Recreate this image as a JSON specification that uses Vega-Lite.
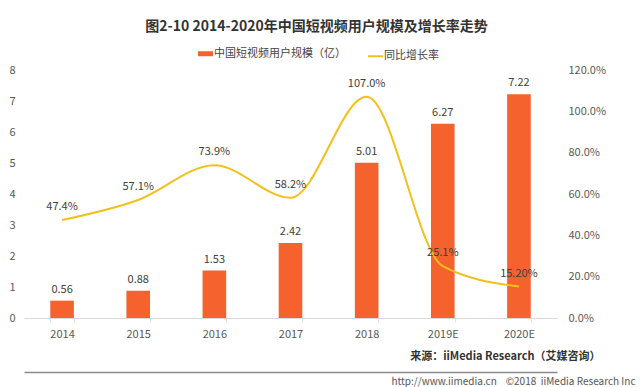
{
  "$schema": "https://vega.github.io/schema/vega-lite/v6.json",
  "width": 533,
  "height": 248,
  "autosize": {"type": "none"},
  "padding": {"left": 24, "top": 70, "right": 83, "bottom": 69},
  "background": "white",
  "title": {
    "text": "图2-10 2014-2020年中国短视频用户规模及增长率走势",
    "anchor": "middle",
    "frame": "group",
    "dx": 26,
    "fontSize": 14,
    "fontWeight": "bold",
    "color": "#333333",
    "offset": 14
  },
  "data": {
    "values": [
      {"year": "2014", "users": 0.56, "rate": 47.4, "rate_label": "47.4%"},
      {"year": "2015", "users": 0.88, "rate": 57.1, "rate_label": "57.1%"},
      {"year": "2016", "users": 1.53, "rate": 73.9, "rate_label": "73.9%"},
      {"year": "2017", "users": 2.42, "rate": 58.2, "rate_label": "58.2%"},
      {"year": "2018", "users": 5.01, "rate": 107.0, "rate_label": "107.0%"},
      {"year": "2019E", "users": 6.27, "rate": 25.1, "rate_label": "25.1%"},
      {"year": "2020E", "users": 7.22, "rate": 15.2, "rate_label": "15.20%"}
    ]
  },
  "encoding": {
    "x": {
      "field": "year",
      "type": "nominal",
      "sort": null,
      "scale": {"paddingInner": 0.69, "paddingOuter": 0.345}
    }
  },
  "layer": [
    {
      "encoding": {
        "y": {
          "field": "users",
          "type": "quantitative",
          "scale": {"domain": [0, 8]},
          "axis": {
            "orient": "left",
            "values": [0, 1, 2, 3, 4, 5, 6, 7, 8],
            "grid": false,
            "domain": false,
            "ticks": false,
            "labelPadding": 9,
            "labelColor": "#595959",
            "labelFontSize": 11,
            "title": "http://www.iimedia.cn\u00a0\u00a0\u00a0\u00a0©2018\u00a0\u00a0iiMedia Research Inc",
            "titleAngle": 0,
            "titleAlign": "right",
            "titleBaseline": "middle",
            "titleX": 611,
            "titleY": 311,
            "titleFontSize": 10,
            "titleFontWeight": "normal",
            "titleColor": "#555555"
          }
        }
      },
      "layer": [
        {
          "mark": {"type": "bar", "color": "#F5622E"},
          "encoding": {
            "x": {
              "field": "year",
              "type": "nominal",
              "sort": null,
              "axis": {
                "orient": "bottom",
                "labelAngle": 0,
                "labelColor": "#595959",
                "labelFontSize": 11,
                "labelPadding": 6,
                "domainColor": "#d9d9d9",
                "tickColor": "#e3e3e3",
                "tickSize": 4,
                "tickBand": "extent",
                "title": "来源：iiMedia Research（艾媒咨询）",
                "titleAnchor": null,
                "titleAlign": "right",
                "titleBaseline": "middle",
                "titleX": 576,
                "titleY": 38,
                "titleFontSize": 11,
                "titleFontWeight": "bold",
                "titleColor": "#333333"
              }
            },
            "color": {
              "datum": "中国短视频用户规模（亿）",
              "type": "nominal",
              "scale": {
                "domain": ["中国短视频用户规模（亿）", "同比增长率"],
                "range": ["#F5622E", "#F2C01C"]
              },
              "legend": {
                "title": null,
                "orient": "none",
                "direction": "horizontal",
                "legendX": 176,
                "legendY": -22,
                "symbolType": "stroke",
                "symbolSize": 225,
                "symbolStrokeWidth": 2,
                "labelFontSize": 11,
                "labelColor": "#444444",
                "labelOffset": 3,
                "columnPadding": 18,
                "encode": {
                  "symbols": {
                    "update": {
                      "stroke": {"scale": "color", "field": "value"},
                      "strokeWidth": {"signal": "datum.value === '同比增长率' ? 2 : 5"}
                    }
                  }
                }
              }
            }
          }
        },
        {
          "mark": {"type": "text", "dy": -11, "fontSize": 11, "color": "#404040", "baseline": "middle"},
          "encoding": {
            "text": {"field": "users", "type": "quantitative", "format": ".2f"}
          }
        }
      ]
    },
    {
      "encoding": {
        "y": {
          "field": "rate",
          "type": "quantitative",
          "scale": {"domain": [0, 120]},
          "axis": {
            "orient": "right",
            "values": [0, 20, 40, 60, 80, 100, 120],
            "labelExpr": "format(datum.value, '.1f') + '%'",
            "grid": false,
            "domain": false,
            "ticks": false,
            "labelPadding": 11,
            "labelColor": "#595959",
            "labelFontSize": 11,
            "title": null
          }
        }
      },
      "layer": [
        {
          "mark": {"type": "line", "interpolate": "monotone", "strokeWidth": 2},
          "encoding": {
            "x": {
              "field": "year",
              "type": "nominal",
              "sort": null,
              "axis": {
                "orient": "bottom",
                "offset": 54,
                "labels": false,
                "ticks": false,
                "domainColor": "#8c8c8c",
                "domainWidth": 1.5,
                "title": null
              }
            },
            "color": {"datum": "同比增长率", "type": "nominal"}
          }
        },
        {
          "mark": {"type": "text", "dy": -13, "fontSize": 11, "color": "#404040", "baseline": "middle"},
          "encoding": {
            "text": {"field": "rate_label", "type": "nominal"}
          }
        }
      ]
    }
  ],
  "resolve": {
    "scale": {"y": "independent"},
    "axis": {"x": "independent"}
  },
  "config": {
    "font": "Noto Sans CJK SC",
    "view": {"stroke": null}
  }
}
